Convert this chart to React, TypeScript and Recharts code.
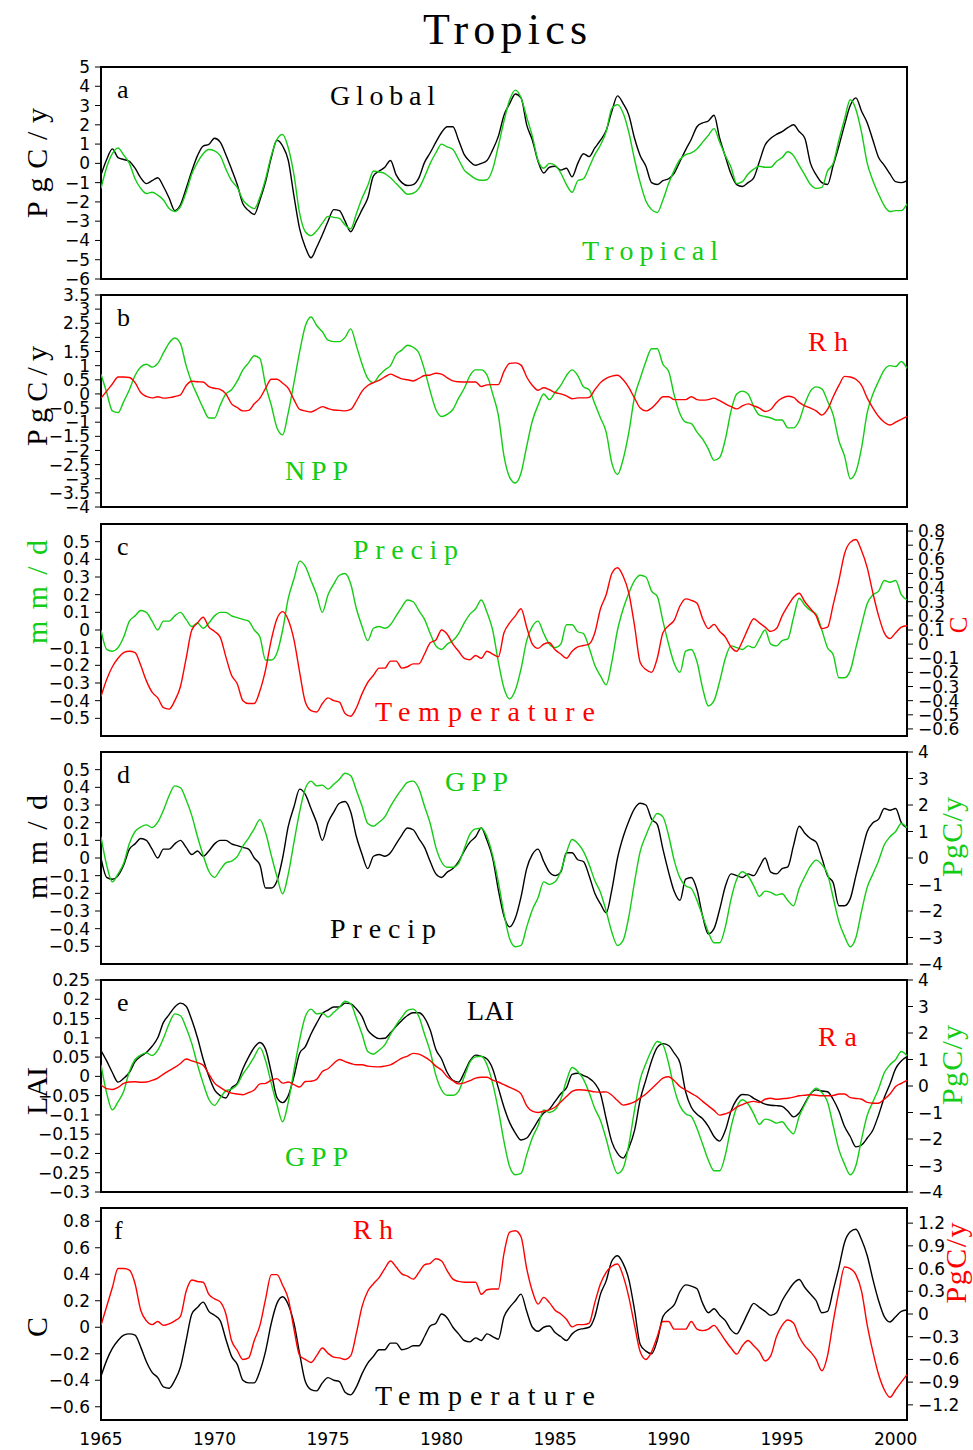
import React from 'react'
import { LineChart, Line, XAxis, YAxis, ReferenceArea } from 'recharts'

// quarterly samples, 1965.0 .. 2000.5
const years = Array.from({ length: 143 }, (_, i) => 1965 + i / 4)
const yearTicks = [1965, 1970, 1975, 1980, 1985, 1990, 1995, 2000]

// (a) net flux, PgC/y
const globalFlux = [
  -0.6, 0.2, 0.75, 0.3,
  0.2, 0.1, -0.25, -0.75,
  -1.05, -0.9, -0.75, -1.2,
  -1.8, -2.45, -2.15, -1.3,
  -0.4, 0.4, 0.9, 0.98,
  1.3, 1.1, 0.45, -0.3,
  -1.1, -2.1, -2.45, -2.65,
  -1.9, -0.95, 0.3, 1.2,
  0.9, 0.15, -1.7, -3.4,
  -4.35, -4.9, -4.35, -3.7,
  -3.0, -2.4, -2.45, -3.0,
  -3.55, -3.0, -2.4, -1.8,
  -0.65, -0.4, -0.2, 0.15,
  -0.6, -1.0, -1.15, -1.1,
  -0.75, 0.05, 0.55, 1.1,
  1.6, 1.9, 1.9, 1.2,
  0.45, 0.1, -0.1, 0.0,
  0.15, 0.7, 1.4, 2.5,
  3.1, 3.6, 3.4, 2.0,
  1.2, 0.1, -0.5, -0.2,
  -0.15, -0.35, -0.25, -0.7,
  0.0, 0.5, 0.35, 0.8,
  1.2, 1.7, 2.7, 3.5,
  3.1, 2.5, 1.3, 0.4,
  -0.15, -1.0, -1.1, -0.9,
  -0.8, -0.5, 0.1, 0.7,
  1.25, 1.9, 2.1, 2.2,
  2.5, 1.3, 0.35, -0.55,
  -1.1, -1.2, -1.0, -0.75,
  0.1, 0.95, 1.3, 1.5,
  1.65, 1.85, 2.0, 1.65,
  1.3, 0.0, -0.6, -1.0,
  -1.1, -0.1, 0.9, 2.0,
  3.0, 3.4, 2.7, 2.1,
  1.2, 0.3, -0.1, -0.55,
  -0.95, -1.0, -0.9,
]

const tropicalFlux = [
  -1.3, -0.2, 0.5, 0.8,
  0.43, 0.0, -0.8, -1.3,
  -1.56, -1.5, -1.65, -1.9,
  -2.34, -2.5, -2.25, -1.5,
  -0.55, 0.05, 0.5, 0.72,
  0.65, 0.4, -0.3, -0.9,
  -1.25, -1.9, -2.2, -2.35,
  -1.75, -0.8, 0.4, 1.25,
  1.5, 0.8, -0.6, -2.6,
  -3.55, -3.75, -3.5, -3.1,
  -2.75, -2.8, -2.85, -3.2,
  -3.4, -2.6, -1.8, -1.15,
  -0.4, -0.45, -0.53, -0.75,
  -1.05, -1.35, -1.6, -1.55,
  -1.3, -0.7, 0.0, 0.55,
  1.0, 0.85, 0.72, 0.2,
  -0.35, -0.6, -0.8, -0.88,
  -0.85, -0.3, 0.9, 2.2,
  3.3, 3.8, 3.4, 2.4,
  1.4, 0.15, -0.25, 0.0,
  -0.1, -0.5, -1.1, -1.5,
  -0.9, -0.8, -0.2, 0.45,
  0.95, 1.65, 2.85, 3.05,
  2.6, 1.6, 0.2, -1.0,
  -1.95, -2.4, -2.55, -1.9,
  -1.05, -0.35, 0.2, 0.45,
  0.55, 0.75, 1.1, 1.45,
  1.8, 1.1, 0.4, -0.2,
  -1.05, -0.95, -0.55, -0.3,
  -0.15, -0.2, -0.2, 0.1,
  0.3, 0.6, 0.4, -0.1,
  -0.6, -1.1, -1.3, -1.25,
  -0.4, 0.0, 1.2, 2.3,
  3.3, 2.8, 1.6, 0.0,
  -0.9, -1.6, -2.2, -2.5,
  -2.45, -2.45, -2.1,
]

// (b) NPP and heterotrophic respiration, PgC/y
const npp = [
  0.7, 0.05, -0.6, -0.66,
  -0.27, 0.15, 0.65, 0.95,
  1.05, 0.95, 1.08, 1.45,
  1.8, 1.98, 1.78, 1.0,
  0.4, -0.06, -0.5, -0.85,
  -0.85, -0.4, 0.0, 0.15,
  0.45, 0.85, 1.1, 1.35,
  1.25, 0.3, -0.4, -1.2,
  -1.45, -0.65, 0.4, 1.5,
  2.4, 2.72, 2.42, 2.2,
  1.9, 1.85, 1.85, 2.0,
  2.3, 1.7, 1.05, 0.55,
  0.4, 0.65, 0.85, 1.0,
  1.4, 1.55, 1.72, 1.65,
  1.45, 0.85, 0.1, -0.55,
  -0.8, -0.72, -0.55, -0.15,
  0.2, 0.65, 0.85, 0.85,
  0.67, 0.0, -0.75, -2.2,
  -2.95, -3.15, -2.8, -1.85,
  -0.95, -0.4, 0.0, -0.2,
  0.05, 0.3, 0.65, 0.85,
  0.65, 0.25, 0.15, -0.35,
  -0.85, -1.35, -2.45, -2.85,
  -2.3, -1.35, -0.1, 0.55,
  1.15, 1.6, 1.6, 1.05,
  0.8, -0.05, -0.7, -1.0,
  -1.05, -1.35, -1.6, -1.95,
  -2.35, -2.25, -1.6, -0.6,
  0.0, 0.1, 0.0, -0.45,
  -0.75, -0.8, -0.85, -0.92,
  -0.92, -1.2, -1.2, -0.95,
  -0.35, 0.1, 0.25, 0.18,
  -0.25, -0.75, -1.65, -2.2,
  -3.0, -2.75, -1.9, -0.65,
  0.0, 0.45, 0.85, 1.0,
  0.97, 1.15, 0.9,
]

const rh = [
  -0.15, 0.1, 0.35, 0.6,
  0.6, 0.58, 0.4, 0.05,
  -0.09, -0.14, -0.1, -0.15,
  -0.13, -0.09, -0.03, 0.3,
  0.45, 0.43, 0.42, 0.26,
  0.2, 0.16, 0.0, -0.35,
  -0.48, -0.6, -0.58, -0.35,
  -0.15, 0.2, 0.52, 0.52,
  0.38, 0.2, -0.2, -0.55,
  -0.6, -0.64, -0.55, -0.45,
  -0.52, -0.57, -0.58, -0.6,
  -0.55, -0.25, 0.1, 0.3,
  0.4, 0.48, 0.6, 0.7,
  0.62, 0.53, 0.5, 0.46,
  0.55, 0.65, 0.67, 0.73,
  0.7, 0.57, 0.46, 0.43,
  0.42, 0.42, 0.42, 0.26,
  0.32, 0.33, 0.33, 0.8,
  1.08, 1.1, 1.02, 0.6,
  0.3, 0.13, 0.22, 0.15,
  0.05, 0.0, -0.07, -0.17,
  -0.14, -0.14, -0.12, 0.15,
  0.4, 0.55, 0.63, 0.66,
  0.5, 0.22, -0.15, -0.5,
  -0.6, -0.5, -0.3, -0.1,
  -0.1, -0.2, -0.2, -0.2,
  -0.1, -0.2, -0.22, -0.2,
  -0.15, -0.24, -0.35, -0.45,
  -0.53, -0.42, -0.35, -0.42,
  -0.5, -0.62, -0.55, -0.3,
  -0.15, -0.08, -0.12, -0.3,
  -0.42, -0.5, -0.6, -0.75,
  -0.55, -0.1, 0.3, 0.62,
  0.6, 0.52, 0.3, -0.15,
  -0.5, -0.8, -1.0, -1.1,
  -1.0, -0.9, -0.8,
]

// (c, d) precipitation mm/d, (c, f) temperature C
const precip = [
  0.0, -0.11, -0.12, -0.1,
  -0.04, 0.05, 0.08, 0.11,
  0.1, 0.05, 0.0, 0.05,
  0.05, 0.08, 0.1, 0.06,
  0.02, 0.04, 0.01, 0.04,
  0.08, 0.1, 0.1, 0.08,
  0.07, 0.06, 0.05, 0.0,
  -0.04, -0.17, -0.17, -0.13,
  0.0, 0.18, 0.29, 0.39,
  0.36, 0.28, 0.2, 0.1,
  0.2, 0.26, 0.31, 0.32,
  0.26, 0.12, 0.02, -0.06,
  0.01, 0.02, 0.01, 0.03,
  0.08, 0.13, 0.17, 0.16,
  0.11, 0.06, -0.02, -0.09,
  -0.11, -0.08, -0.06, -0.02,
  0.04, 0.09, 0.12, 0.17,
  0.1, 0.0, -0.18, -0.33,
  -0.39, -0.34, -0.22, -0.06,
  0.02, 0.05, -0.02, -0.08,
  -0.1, -0.08, 0.03, 0.03,
  -0.01, -0.02, -0.1, -0.2,
  -0.26, -0.31, -0.18, 0.0,
  0.12, 0.21, 0.28, 0.31,
  0.3, 0.22, 0.19, 0.05,
  -0.08, -0.19, -0.24, -0.12,
  -0.11, -0.18, -0.33, -0.43,
  -0.4, -0.29, -0.16, -0.09,
  -0.1, -0.11, -0.09, -0.1,
  -0.05, 0.0, -0.08, -0.09,
  -0.06, -0.05, 0.07, 0.18,
  0.14, 0.11, 0.09, 0.0,
  -0.1, -0.14, -0.27, -0.27,
  -0.23, -0.1, 0.03, 0.15,
  0.2, 0.22, 0.28, 0.27,
  0.28, 0.2, 0.17,
]

const temperature = [
  -0.37, -0.25, -0.16, -0.1,
  -0.06, -0.05, -0.06, -0.15,
  -0.26, -0.34, -0.38, -0.45,
  -0.46, -0.4, -0.3, -0.1,
  0.1, 0.15, 0.19, 0.12,
  0.09, 0.05, -0.09, -0.22,
  -0.28, -0.4, -0.42, -0.42,
  -0.33, -0.18, 0.03, 0.18,
  0.23, 0.17, 0.03, -0.2,
  -0.41, -0.47, -0.48, -0.42,
  -0.38, -0.4, -0.41, -0.49,
  -0.51, -0.45, -0.35, -0.27,
  -0.22, -0.17, -0.17, -0.12,
  -0.12, -0.17, -0.16, -0.14,
  -0.14, -0.07, 0.01, 0.03,
  0.1, 0.07, 0.0, -0.05,
  -0.1, -0.11, -0.08, -0.1,
  -0.05, -0.07, -0.09, 0.08,
  0.15, 0.2, 0.25, 0.12,
  0.0, -0.03, 0.0, 0.01,
  -0.04, -0.07, -0.1, -0.05,
  -0.02, -0.01, 0.0, 0.08,
  0.25, 0.35, 0.5, 0.54,
  0.48, 0.36, 0.13, -0.13,
  -0.18, -0.2, -0.1, 0.08,
  0.13, 0.17, 0.27, 0.32,
  0.31, 0.29, 0.18, 0.11,
  0.14, 0.09, 0.05, -0.02,
  -0.05, 0.02, 0.11, 0.18,
  0.15, 0.12, 0.09, 0.11,
  0.2, 0.27, 0.33, 0.36,
  0.3, 0.25, 0.2, 0.11,
  0.12, 0.28, 0.45, 0.64,
  0.72, 0.74, 0.66, 0.54,
  0.36, 0.2, 0.08, 0.04,
  0.08, 0.12, 0.13,
]

// (d, e) GPP PgC/y, (e) LAI and autotrophic respiration
const gpp = [
  0.8, -0.27, -0.9, -0.6,
  -0.2, 0.55, 1.0, 1.17,
  1.25, 1.15, 1.35, 1.8,
  2.35, 2.72, 2.65, 2.2,
  1.6, 0.8, 0.1, -0.5,
  -0.73, -0.45, -0.18, -0.12,
  0.05, 0.45, 0.75, 1.1,
  1.45, 0.95, 0.1, -0.7,
  -1.35, -0.6, 0.6, 1.75,
  2.62, 2.9, 2.72, 2.75,
  2.6, 2.78, 2.97, 3.2,
  3.1, 2.55, 1.95, 1.3,
  1.2, 1.35, 1.55, 1.95,
  2.3, 2.6, 2.85, 2.9,
  2.62, 1.95, 1.3, 0.4,
  -0.15, -0.35, -0.35, -0.2,
  0.35, 0.9, 1.1, 1.12,
  0.8, 0.1, -0.9, -2.1,
  -3.05, -3.35, -3.3, -2.6,
  -1.95, -1.5, -0.9, -1.0,
  -0.9, -0.5, 0.2, 0.7,
  0.55, 0.25, -0.25, -0.85,
  -1.3, -2.0, -2.8, -3.3,
  -3.1, -2.2, -0.9, 0.25,
  0.85, 1.35, 1.68, 1.55,
  0.85, -0.1, -0.75, -1.05,
  -1.15, -1.6, -2.2, -2.8,
  -3.2, -3.2, -2.6, -1.55,
  -0.8, -0.52, -0.68, -1.05,
  -1.45, -1.25, -1.3, -1.4,
  -1.35, -1.6, -1.8, -1.15,
  -0.7, -0.3, -0.08, -0.25,
  -0.6, -1.5, -2.4, -2.95,
  -3.35, -3.0, -2.0, -1.1,
  -0.6, -0.1, 0.5, 0.8,
  1.0, 1.3, 1.14,
]

const lai = [
  0.067, 0.04, 0.01, -0.015,
  -0.005, 0.01, 0.038, 0.052,
  0.062, 0.078, 0.1, 0.14,
  0.16, 0.18, 0.19, 0.182,
  0.146, 0.1, 0.045, 0.0,
  -0.035, -0.05, -0.056, -0.03,
  -0.018, 0.02, 0.05, 0.075,
  0.088, 0.07, 0.01, -0.055,
  -0.068, -0.05, 0.0, 0.06,
  0.077, 0.11, 0.138, 0.163,
  0.172, 0.18, 0.18, 0.19,
  0.188, 0.175, 0.155, 0.12,
  0.105, 0.098, 0.099, 0.113,
  0.13, 0.145, 0.158, 0.165,
  0.165, 0.152, 0.12, 0.07,
  0.045, 0.01, -0.01, -0.015,
  0.01, 0.04, 0.055, 0.052,
  0.045, 0.02, -0.03, -0.08,
  -0.12, -0.147, -0.165, -0.16,
  -0.139, -0.115, -0.095, -0.085,
  -0.065, -0.045, -0.03, 0.005,
  0.008, 0.002, -0.005, -0.018,
  -0.045, -0.11, -0.17, -0.2,
  -0.212, -0.185, -0.14, -0.06,
  -0.009, 0.04, 0.075, 0.085,
  0.08, 0.06, 0.035, -0.04,
  -0.08, -0.098, -0.11, -0.13,
  -0.156, -0.168, -0.14, -0.09,
  -0.06, -0.047, -0.048, -0.057,
  -0.065, -0.072, -0.075, -0.076,
  -0.078, -0.09, -0.105, -0.095,
  -0.07, -0.045, -0.035, -0.038,
  -0.04, -0.06, -0.09, -0.13,
  -0.156, -0.183, -0.178, -0.16,
  -0.139, -0.1, -0.055, -0.02,
  0.02, 0.04, 0.051,
]

const ra = [
  0.04, -0.1, -0.13, -0.05,
  0.1, 0.15, 0.16, 0.14,
  0.15, 0.21, 0.3, 0.45,
  0.58, 0.7, 0.85, 1.02,
  0.95, 0.88, 0.78, 0.45,
  0.11, -0.05, -0.18, -0.27,
  -0.3, -0.33, -0.25, -0.15,
  0.08, 0.1, 0.22, 0.28,
  0.11, 0.15, 0.05, -0.04,
  0.17, 0.18, 0.25, 0.55,
  0.65, 0.85, 1.0, 0.92,
  0.85, 0.8, 0.8, 0.75,
  0.73, 0.72, 0.75, 0.8,
  0.92, 1.05, 1.13, 1.23,
  1.2, 1.1, 0.95, 0.75,
  0.6, 0.35, 0.2, 0.08,
  0.12, 0.2, 0.3, 0.33,
  0.33, 0.22, 0.15, 0.05,
  -0.05, -0.15, -0.3, -0.75,
  -0.95, -1.0, -0.95, -0.9,
  -0.8, -0.6, -0.4, -0.2,
  -0.14, -0.15, -0.18, -0.22,
  -0.23, -0.22, -0.35, -0.55,
  -0.72, -0.68, -0.6, -0.45,
  -0.3, -0.1, 0.1, 0.3,
  0.35, 0.2, -0.02, -0.15,
  -0.28, -0.4, -0.58, -0.75,
  -0.92, -1.1, -1.05, -0.96,
  -0.8, -0.7, -0.62, -0.58,
  -0.62, -0.5, -0.46, -0.5,
  -0.48, -0.46, -0.42, -0.37,
  -0.35, -0.33, -0.35, -0.37,
  -0.37, -0.36, -0.3, -0.3,
  -0.44, -0.47, -0.5, -0.62,
  -0.65, -0.65, -0.5, -0.3,
  -0.02, 0.1, 0.21,
]

const rows = years.map((year, i) => ({
  year,
  globalFlux: globalFlux[i],
  tropicalFlux: tropicalFlux[i],
  npp: npp[i],
  rh: rh[i],
  precip: precip[i],
  temperature: temperature[i],
  gpp: gpp[i],
  lai: lai[i],
  ra: ra[i],
}))

const BLACK = '#000000'
const GREEN = '#14cc14'
const RED = '#ff0000'
const TICK_FONT = 'DejaVu Sans'
const LABEL_FONT = 'Liberation Serif'
const PLOT_H = 212
const PAD = 12

const fmt = (v: number) => String(Math.round(v * 100) / 100).replace('-', '\u2212')

interface AxisSpec {
  domain: [number, number]
  ticks: number[]
}

interface SeriesSpec {
  key: string
  color: string
  axis: 'L' | 'R'
}

interface PanelProps {
  top: number
  left: AxisSpec
  right?: AxisSpec
  series: SeriesSpec[]
  showYears?: boolean
}

const tickStyle = { fontSize: 17, fill: BLACK, fontFamily: TICK_FONT }

const Panel: React.FC<PanelProps> = ({ top, left, right, series, showYears = false }) => {
  const height = PLOT_H + 2 * PAD + (showYears ? 34 : 0)
  return (
    <div style={{ position: 'absolute', left: 0, top: top - PAD }}>
      <LineChart
        width={973}
        height={height}
        data={rows}
        margin={{ top: PAD, bottom: PAD, left: 41, right: right ? 6 : 66 }}
      >
        <XAxis
          type="number"
          dataKey="year"
          domain={[1965, 2000.5]}
          ticks={yearTicks}
          allowDataOverflow
          hide={!showYears}
          height={34}
          axisLine={false}
          tickLine={false}
          tickMargin={7}
          interval={0}
          tick={tickStyle}
        />
        <YAxis
          yAxisId="L"
          width={60}
          domain={left.domain}
          ticks={left.ticks}
          allowDataOverflow
          interval={0}
          axisLine={false}
          tickLine={{ stroke: BLACK }}
          tickSize={6}
          tickMargin={5}
          tickFormatter={fmt}
          tick={tickStyle}
        />
        {right && (
          <YAxis
            yAxisId="R"
            orientation="right"
            width={60}
            domain={right.domain}
            ticks={right.ticks}
            allowDataOverflow
            interval={0}
            axisLine={false}
            tickLine={{ stroke: BLACK }}
            tickSize={6}
            tickMargin={5}
            tickFormatter={fmt}
            tick={tickStyle}
          />
        )}
        {series.map((s) => (
          <Line
            key={s.key}
            yAxisId={s.axis}
            dataKey={s.key}
            type="monotone"
            stroke={s.color}
            strokeWidth={1.4}
            dot={false}
            activeDot={false}
            isAnimationActive={false}
          />
        ))}
        <ReferenceArea
          yAxisId="L"
          x1={1965}
          x2={2000.5}
          y1={left.domain[0]}
          y2={left.domain[1]}
          fill="none"
          fillOpacity={0}
          stroke={BLACK}
          strokeWidth={2}
        />
      </LineChart>
    </div>
  )
}

const serif = { fontFamily: LABEL_FONT }

const VLabel: React.FC<{ x: number; y: number; len: number; color: string; size?: number; text: string }> = ({
  x,
  y,
  len,
  color,
  size = 30,
  text,
}) => (
  <text
    transform={`translate(${x},${y}) rotate(-90)`}
    textAnchor="middle"
    fontSize={size}
    fill={color}
    style={serif}
    textLength={len}
    lengthAdjust="spacing"
  >
    {text}
  </text>
)

const HLabel: React.FC<{ x: number; y: number; len?: number; color: string; size?: number; text: string }> = ({
  x,
  y,
  len,
  color,
  size = 28,
  text,
}) => (
  <text
    x={x}
    y={y}
    fontSize={size}
    fill={color}
    style={serif}
    textLength={len}
    lengthAdjust={len ? 'spacing' : undefined}
  >
    {text}
  </text>
)

export default function App() {
  return (
    <div style={{ position: 'absolute', left: 0, top: 0, width: 973, height: 1450, background: '#fff' }}>
      <Panel
        top={67}
        left={{ domain: [-6, 5], ticks: [5, 4, 3, 2, 1, 0, -1, -2, -3, -4, -5, -6] }}
        series={[
          { key: 'globalFlux', color: BLACK, axis: 'L' },
          { key: 'tropicalFlux', color: GREEN, axis: 'L' },
        ]}
      />
      <Panel
        top={295}
        left={{
          domain: [-4, 3.5],
          ticks: [3.5, 3, 2.5, 2, 1.5, 1, 0.5, 0, -0.5, -1, -1.5, -2, -2.5, -3, -3.5, -4],
        }}
        series={[
          { key: 'npp', color: GREEN, axis: 'L' },
          { key: 'rh', color: RED, axis: 'L' },
        ]}
      />
      <Panel
        top={524}
        left={{ domain: [-0.6, 0.6], ticks: [0.5, 0.4, 0.3, 0.2, 0.1, 0, -0.1, -0.2, -0.3, -0.4, -0.5] }}
        right={{
          domain: [-0.65, 0.85],
          ticks: [0.8, 0.7, 0.6, 0.5, 0.4, 0.3, 0.2, 0.1, 0, -0.1, -0.2, -0.3, -0.4, -0.5, -0.6],
        }}
        series={[
          { key: 'precip', color: GREEN, axis: 'L' },
          { key: 'temperature', color: RED, axis: 'R' },
        ]}
      />
      <Panel
        top={752}
        left={{ domain: [-0.6, 0.6], ticks: [0.5, 0.4, 0.3, 0.2, 0.1, 0, -0.1, -0.2, -0.3, -0.4, -0.5] }}
        right={{ domain: [-4, 4], ticks: [4, 3, 2, 1, 0, -1, -2, -3, -4] }}
        series={[
          { key: 'precip', color: BLACK, axis: 'L' },
          { key: 'gpp', color: GREEN, axis: 'R' },
        ]}
      />
      <Panel
        top={980}
        left={{
          domain: [-0.3, 0.25],
          ticks: [0.25, 0.2, 0.15, 0.1, 0.05, 0, -0.05, -0.1, -0.15, -0.2, -0.25, -0.3],
        }}
        right={{ domain: [-4, 4], ticks: [4, 3, 2, 1, 0, -1, -2, -3, -4] }}
        series={[
          { key: 'lai', color: BLACK, axis: 'L' },
          { key: 'gpp', color: GREEN, axis: 'R' },
          { key: 'ra', color: RED, axis: 'R' },
        ]}
      />
      <Panel
        top={1208}
        left={{ domain: [-0.7, 0.9], ticks: [0.8, 0.6, 0.4, 0.2, 0, -0.2, -0.4, -0.6] }}
        right={{ domain: [-1.4, 1.4], ticks: [1.2, 0.9, 0.6, 0.3, 0, -0.3, -0.6, -0.9, -1.2] }}
        series={[
          { key: 'temperature', color: BLACK, axis: 'L' },
          { key: 'rh', color: RED, axis: 'R' },
        ]}
        showYears
      />

      <svg
        width={973}
        height={1450}
        style={{ position: 'absolute', left: 0, top: 0, pointerEvents: 'none' }}
      >
        <text x={505} y={44} textAnchor="middle" fontSize={44} fill={BLACK} style={serif} textLength={164} lengthAdjust="spacing">
          Tropics
        </text>

        {/* a */}
        <HLabel x={117} y={98} size={26} color={BLACK} text="a" />
        <HLabel x={330} y={105} len={105} color={BLACK} text="Global" />
        <HLabel x={582} y={260} len={136} color={GREEN} text="Tropical" />
        <VLabel x={47} y={163} len={110} color={BLACK} text="PgC/y" />

        {/* b */}
        <HLabel x={117} y={326} size={26} color={BLACK} text="b" />
        <HLabel x={285} y={480} len={63} color={GREEN} text="NPP" />
        <HLabel x={808} y={351} len={40} color={RED} text="Rh" />
        <VLabel x={47} y={396} len={100} color={BLACK} text="PgC/y" />

        {/* c */}
        <HLabel x={117} y={555} size={26} color={BLACK} text="c" />
        <HLabel x={353} y={559} len={105} color={GREEN} text="Precip" />
        <HLabel x={375} y={721} len={220} color={RED} text="Temperature" />
        <VLabel x={47} y={592} len={104} color={GREEN} text="mm/d" />
        <VLabel x={967} y={625} len={17} size={25} color={RED} text="C" />

        {/* d */}
        <HLabel x={117} y={783} size={26} color={BLACK} text="d" />
        <HLabel x={445} y={791} len={63} color={GREEN} text="GPP" />
        <HLabel x={330} y={938} len={106} color={BLACK} text="Precip" />
        <VLabel x={47} y={847} len={104} color={BLACK} text="mm/d" />
        <VLabel x={962} y={837} len={80} color={GREEN} text="PgC/y" />

        {/* e */}
        <HLabel x={117} y={1011} size={26} color={BLACK} text="e" />
        <HLabel x={467} y={1020} len={47} color={BLACK} text="LAI" />
        <HLabel x={818} y={1046} len={39} color={RED} text="Ra" />
        <HLabel x={285} y={1166} len={63} color={GREEN} text="GPP" />
        <VLabel x={47} y={1091} len={48} color={BLACK} text="LAI" />
        <VLabel x={962} y={1065} len={80} color={GREEN} text="PgC/y" />

        {/* f */}
        <HLabel x={114} y={1239} size={26} color={BLACK} text="f" />
        <HLabel x={353} y={1239} len={40} color={RED} text="Rh" />
        <HLabel x={375} y={1405} len={220} color={BLACK} text="Temperature" />
        <VLabel x={47} y={1327} len={20} color={BLACK} text="C" />
        <VLabel x={966} y={1263} len={81} color={RED} text="PgC/y" />
      </svg>
    </div>
  )
}
